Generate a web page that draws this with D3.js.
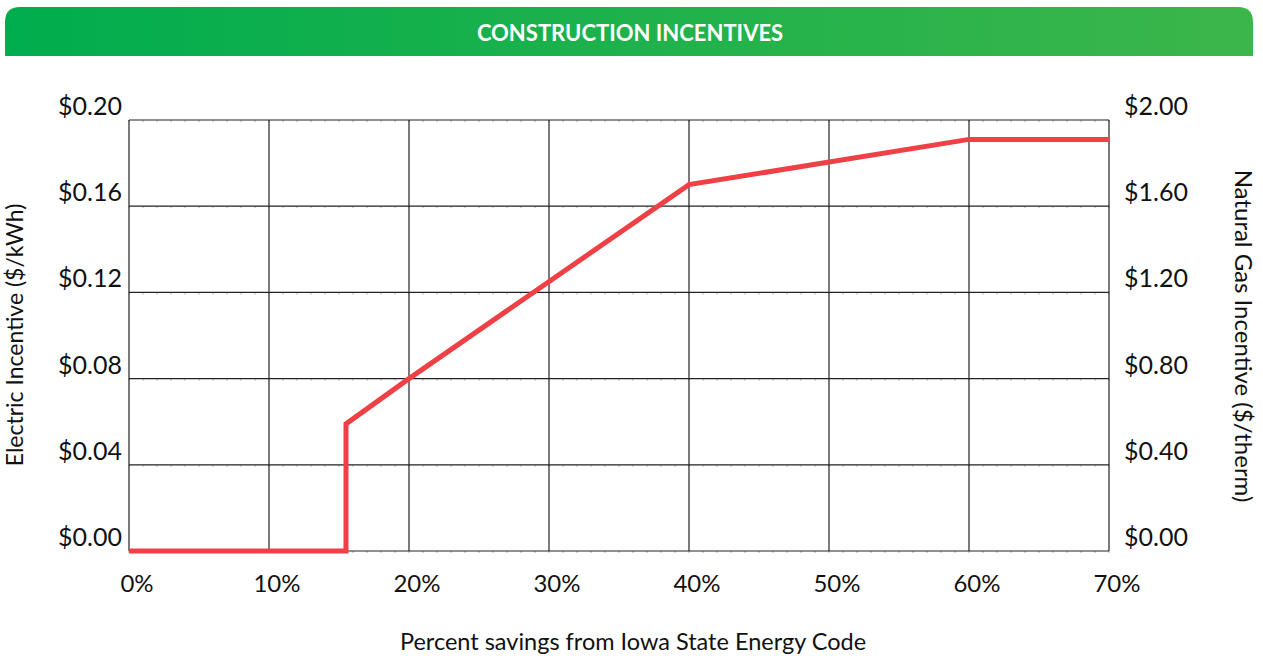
<!DOCTYPE html>
<html>
<head>
<meta charset="utf-8">
<script src="https://cdn.jsdelivr.net/npm/d3@7"></script>
<style>
  body { margin: 0; background: #fff; }
  text { font-family: Lato, "Open Sans", sans-serif; fill: #111; }
</style>
</head>
<body>
<script>
// chart data
var title = "CONSTRUCTION INCENTIVES";
var savings = [0, 15.5, 15.5, 20, 40, 60, 70];          // percent savings
var electric = [0, 0, 0.059, 0.08, 0.17, 0.191, 0.191]; // $/kWh
var xTicks = [0, 10, 20, 30, 40, 50, 60, 70];
var leftTicks = [0, 0.04, 0.08, 0.12, 0.16, 0.20];
var rightTicks = [0, 0.4, 0.8, 1.2, 1.6, 2.0];

var width = 1263, height = 656;
var margin = {left: 129, right: 1109, top: 120, bottom: 551};

var svg = d3.select("body").append("svg")
    .attr("width", width)
    .attr("height", height);

// header bar with green gradient
var grad = svg.append("defs").append("linearGradient")
    .attr("id", "hdr");
grad.append("stop").attr("offset", "0%").attr("stop-color", "#00ad4e");
grad.append("stop").attr("offset", "100%").attr("stop-color", "#3cb64a");

var r = 15, hx0 = 5, hx1 = 1253, hy0 = 7, hy1 = 56;
svg.append("path")
    .attr("d", "M" + hx0 + "," + hy1 + "V" + (hy0 + r) +
        "Q" + hx0 + "," + hy0 + " " + (hx0 + r) + "," + hy0 +
        "H" + (hx1 - r) + "Q" + hx1 + "," + hy0 + " " + hx1 + "," + (hy0 + r) +
        "V" + hy1 + "Z")
    .attr("fill", "url(#hdr)");

svg.append("text")
    .attr("x", 630).attr("y", 41)
    .attr("text-anchor", "middle")
    .style("fill", "#fff")
    .style("font-weight", "bold")
    .style("font-size", "22px")
    .text(title);

// scales
var x = d3.scaleLinear().domain([0, 70]).range([margin.left, margin.right]);
var y = d3.scaleLinear().domain([0, 0.20]).range([margin.bottom, margin.top]);
var y2 = d3.scaleLinear().domain([0, 2.0]).range([margin.bottom, margin.top]);

var grid = svg.append("g");

// minor ticks every 1% along horizontal gridlines
var minor = d3.range(0, 71, 1);
leftTicks.forEach(function(t){
    grid.selectAll(null)
        .data(minor)
        .enter()
        .append("line")
        .attr("x1", function(d){ return x(d); })
        .attr("x2", function(d){ return x(d); })
        .attr("y1", y(t))
        .attr("y2", y(t) + 2)
        .attr("stroke", "#999")
        .attr("stroke-width", 0.8);
});

// horizontal gridlines
grid.selectAll(".h")
    .data(leftTicks)
    .enter()
    .append("line")
    .attr("x1", x(0))
    .attr("x2", x(70))
    .attr("y1", function(d){ return y(d); })
    .attr("y2", function(d){ return y(d); })
    .attr("stroke", "#222")
    .attr("stroke-width", 1.2);

// vertical gridlines
grid.selectAll(".v")
    .data(xTicks)
    .enter()
    .append("line")
    .attr("x1", function(d){ return x(d); })
    .attr("x2", function(d){ return x(d); })
    .attr("y1", y(0.20))
    .attr("y2", y(0))
    .attr("stroke", "#222")
    .attr("stroke-width", 1.2);

// left tick labels
svg.selectAll(".ly")
    .data(leftTicks)
    .enter()
    .append("text")
    .attr("x", 122)
    .attr("y", function(d){ return y(d) - 5; })
    .attr("text-anchor", "end")
    .style("font-size", "25px")
    .text(function(d){ return "$" + d3.format(".2f")(d); });

// right tick labels
svg.selectAll(".ry")
    .data(rightTicks)
    .enter()
    .append("text")
    .attr("x", 1124)
    .attr("y", function(d){ return y2(d) - 5; })
    .style("font-size", "25px")
    .text(function(d){ return "$" + d3.format(".2f")(d); });

// x tick labels
svg.selectAll(".xt")
    .data(xTicks)
    .enter()
    .append("text")
    .attr("x", function(d){ return x(d) + 8; })
    .attr("y", 592)
    .attr("text-anchor", "middle")
    .style("font-size", "24px")
    .text(function(d){ return d + "%"; });

// axis titles
svg.append("text")
    .attr("x", 633).attr("y", 650)
    .attr("text-anchor", "middle")
    .style("font-size", "23.5px")
    .text("Percent savings from Iowa State Energy Code");

svg.append("text")
    .attr("transform", "translate(23,335) rotate(-90)")
    .attr("text-anchor", "middle")
    .style("font-size", "23px")
    .text("Electric Incentive ($/kWh)");

svg.append("text")
    .attr("transform", "translate(1235,336) rotate(90)")
    .attr("text-anchor", "middle")
    .style("font-size", "24px")
    .text("Natural Gas Incentive ($/therm)");

// incentive line
var line = d3.line()
    .x(function(d, i){ return x(savings[i]); })
    .y(function(d){ return y(d); });

svg.append("path")
    .datum(electric)
    .attr("d", line)
    .attr("fill", "none")
    .attr("stroke", "#ef4046")
    .attr("stroke-width", 5)
    .attr("stroke-linejoin", "miter");
</script>
</body>
</html>
